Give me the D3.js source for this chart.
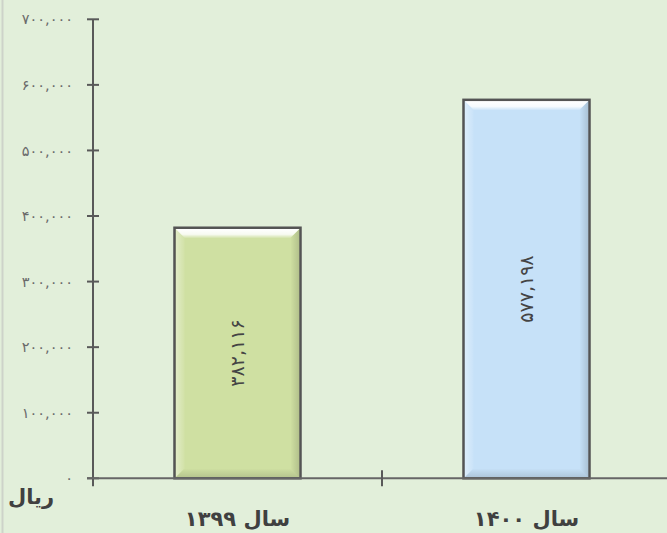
<!DOCTYPE html>
<html>
<head>
<meta charset="utf-8">
<script src="https://cdn.jsdelivr.net/npm/d3@7"></script>
<style>
  html, body { margin: 0; padding: 0; background: #e2efda; }
  svg { display: block; }
</style>
</head>
<body>
<svg id="chart" width="667" height="533"></svg>
<script>
// Annual amounts in rials
const categories = ["سال ۱۳۹۹", "سال ۱۴۰۰"];
const values = [382116, 577198];
const barLabels = ["۳۸۲,۱۱۶", "۵۷۷,۱۹۸"];
const barColors = ["#cfe0a2", "#c6e1f8"];
const yTicks = [0, 100000, 200000, 300000, 400000, 500000, 600000, 700000];
const yTickLabels = ["۰", "۱۰۰,۰۰۰", "۲۰۰,۰۰۰", "۳۰۰,۰۰۰", "۴۰۰,۰۰۰", "۵۰۰,۰۰۰", "۶۰۰,۰۰۰", "۷۰۰,۰۰۰"];
const unitLabel = "ریال";

const W = 667, H = 533;
const margin = { left: 93, right: -4, top: 19.3, bottom: 54.7 };
const svg = d3.select("#chart");

svg.append("rect").attr("width", W).attr("height", H).attr("fill", "#e2efda");
svg.append("rect").attr("x", 1.5).attr("y", 0).attr("width", 2).attr("height", H).attr("fill", "#cdd3c9");

const x = d3.scaleBand().domain(categories)
  .range([margin.left, W - margin.right]).paddingInner(0.564).paddingOuter(0.282);
const xOuter = d3.scaleBand().domain(categories).range([margin.left, W - margin.right]);
const y = d3.scaleLinear().domain([0, 700000]).range([H - margin.bottom, margin.top]);

const font = "'DejaVu Sans', sans-serif";

// gradients for the bevel highlight
const defs = svg.append("defs");
const gTop = defs.append("linearGradient").attr("id", "bevelTop").attr("x1", 0).attr("y1", 0).attr("x2", 0).attr("y2", 1);
gTop.append("stop").attr("offset", "0").attr("stop-color", "#fff").attr("stop-opacity", 1);
gTop.append("stop").attr("offset", "0.6").attr("stop-color", "#fff").attr("stop-opacity", 0.85);
gTop.append("stop").attr("offset", "1").attr("stop-color", "#fff").attr("stop-opacity", 0.1);
const gRight = defs.append("linearGradient").attr("id", "bevelRight").attr("x1", 0).attr("y1", 0).attr("x2", 1).attr("y2", 0);
gRight.append("stop").attr("offset", "0").attr("stop-color", "#000").attr("stop-opacity", 0.0);
gRight.append("stop").attr("offset", "1").attr("stop-color", "#000").attr("stop-opacity", 0.14);
const gBottom = defs.append("linearGradient").attr("id", "bevelBottom").attr("x1", 0).attr("y1", 0).attr("x2", 0).attr("y2", 1);
gBottom.append("stop").attr("offset", "0").attr("stop-color", "#000").attr("stop-opacity", 0.0);
gBottom.append("stop").attr("offset", "1").attr("stop-color", "#000").attr("stop-opacity", 0.12);
const gLeft = defs.append("linearGradient").attr("id", "bevelLeft").attr("x1", 0).attr("y1", 0).attr("x2", 1).attr("y2", 0);
gLeft.append("stop").attr("offset", "0").attr("stop-color", "#fff").attr("stop-opacity", 0.4);
gLeft.append("stop").attr("offset", "1").attr("stop-color", "#fff").attr("stop-opacity", 0.05);

// bars
const bars = svg.append("g");
categories.forEach((c, i) => {
  const x0 = x(c), x1 = x(c) + x.bandwidth();
  const y0 = y(values[i]), y1 = y(0);
  const g = bars.append("g");
  g.append("rect").attr("x", x0).attr("y", y0).attr("width", x1 - x0).attr("height", y1 - y0)
    .attr("fill", barColors[i]);
  const b = 9, ix0 = x0 + 1.2, ix1 = x1 - 1.2, iy0 = y0 + 1.2, iy1 = y1 - 1;
  const poly = pts => pts.map(p => p.join(",")).join(" ");
  g.append("polygon").attr("points", poly([[ix0, iy0], [ix0 + b, iy0 + b], [ix0 + b, iy1 - b], [ix0, iy1]]))
    .attr("fill", "url(#bevelLeft)");
  g.append("polygon").attr("points", poly([[ix1, iy0], [ix1, iy1], [ix1 - b, iy1 - b], [ix1 - b, iy0 + b]]))
    .attr("fill", "url(#bevelRight)");
  g.append("polygon").attr("points", poly([[ix0, iy1], [ix1, iy1], [ix1 - b, iy1 - b], [ix0 + b, iy1 - b]]))
    .attr("fill", "url(#bevelBottom)");
  g.append("polygon").attr("points", poly([[ix0, iy0], [ix1, iy0], [ix1 - b, iy0 + b], [ix0 + b, iy0 + b]]))
    .attr("fill", "url(#bevelTop)");
  g.append("rect").attr("x", x0).attr("y", y0).attr("width", x1 - x0).attr("height", y1 - y0)
    .attr("fill", "none").attr("stroke", "#545454").attr("stroke-width", 2.5);

  // value label, rotated to read upward
  const cx = x0 + (x1 - x0) / 2, cy = (y0 + y1) / 2;
  g.append("text").attr("transform", `translate(${cx},${cy}) rotate(-90)`)
    .attr("text-anchor", "middle").attr("dy", "0.35em")
    .attr("font-family", font).attr("font-size", 19).attr("fill", "#444")
    .text(barLabels[i]);
});

// y axis
const yAxis = svg.append("g").attr("transform", `translate(${margin.left},0)`);
yAxis.append("line").attr("x1", 0).attr("x2", 0).attr("y1", y(700000)).attr("y2", y(0) + 8)
  .attr("stroke", "#595959").attr("stroke-width", 2);
yAxis.selectAll(".tick").data(yTicks).join("line")
  .attr("x1", -6).attr("x2", 6).attr("y1", d => y(d)).attr("y2", d => y(d))
  .attr("stroke", "#595959").attr("stroke-width", 2);
yAxis.selectAll(".lbl").data(yTicks).join("text")
  .attr("x", -20).attr("y", d => y(d)).attr("dy", "0.35em")
  .attr("text-anchor", "end").attr("font-family", font).attr("font-size", 14.5)
  .attr("fill", "#6a6a6a")
  .text((d, i) => yTickLabels[i]);

// x axis
const xAxis = svg.append("g");
xAxis.append("line").attr("x1", margin.left - 6).attr("x2", W).attr("y1", y(0)).attr("y2", y(0))
  .attr("stroke", "#666").attr("stroke-width", 2);
categories.slice(1).forEach(c => {
  xAxis.append("line").attr("x1", xOuter(c)).attr("x2", xOuter(c)).attr("y1", y(0) - 8).attr("y2", y(0) + 8)
    .attr("stroke", "#595959").attr("stroke-width", 2);
});
xAxis.selectAll(".cat").data(categories).join("text")
  .attr("x", d => x(d) + x.bandwidth() / 2).attr("y", 526)
  .attr("text-anchor", "middle").attr("font-family", font).attr("font-weight", "bold")
  .attr("font-size", 21).attr("fill", "#404040")
  .text(d => d);

// unit label
svg.append("text").attr("x", 31).attr("y", 504).attr("text-anchor", "middle")
  .attr("font-family", font).attr("font-weight", "bold").attr("font-size", 21).attr("fill", "#404040")
  .text(unitLabel);
</script>
</body>
</html>
